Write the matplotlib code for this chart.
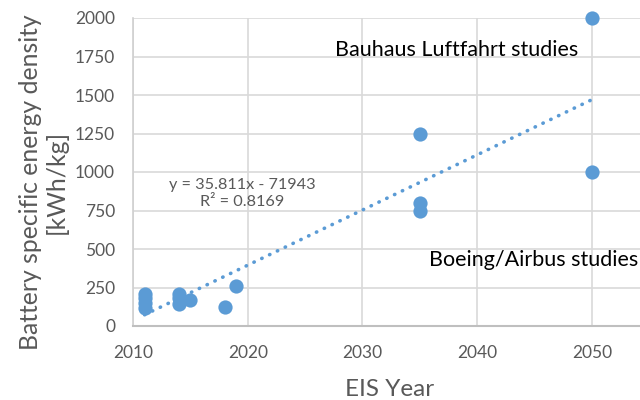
import matplotlib
matplotlib.use('Agg')
import matplotlib.pyplot as plt
import numpy as np

# --- data ---
eis_year = [2011, 2011, 2011, 2011, 2014, 2014, 2014, 2015, 2018, 2019,
            2035, 2035, 2035, 2050, 2050]
energy_density = [120, 150, 180, 205, 145, 180, 205, 172, 126, 261,
                  1250, 800, 750, 2000, 1000]
trend_slope = 35.811
trend_intercept = -71943
trend_r2 = 0.8169

x_ticks = [2010, 2020, 2030, 2040, 2050]
y_ticks = [0, 250, 500, 750, 1000, 1250, 1500, 1750, 2000]

plt.rcParams['font.family'] = ['Lato', 'DejaVu Sans']
GRAY = '#595959'
BLUE = '#5B9BD5'

fig = plt.figure(figsize=(6.4, 4.0), dpi=100)
ax = fig.add_axes([0.208, 0.185, 0.792, 0.77])

# trendline over the data range
tx = np.array([min(eis_year), max(eis_year)])
ax.plot(tx, trend_slope * tx + trend_intercept, color=BLUE,
        linestyle=(0, (0.1, 2.3)), linewidth=2.6, dash_capstyle='round',
        solid_capstyle='round', zorder=2)

ax.scatter(eis_year, energy_density, s=105, color=BLUE, zorder=3,
           clip_on=False, linewidths=0)

ax.set_xlim(2010, 2054.2)
ax.set_ylim(0, 2000)
ax.set_xticks(x_ticks)
ax.set_yticks(y_ticks)
ax.tick_params(length=0, labelsize=12.5, colors=GRAY)
ax.tick_params(axis='y', pad=13)
ax.tick_params(axis='x', pad=14)
ax.grid(True, color='#D9D9D9', linewidth=1.2)
ax.set_axisbelow(True)

for side in ['top', 'right']:
    ax.spines[side].set_visible(False)
ax.spines['left'].set_color('#D0D0D0')
ax.spines['left'].set_linewidth(1.2)
ax.spines['bottom'].set_color('#BFBFBF')
ax.spines['bottom'].set_linewidth(1.5)

fig.text(390 / 640, 1 - 389 / 400, 'EIS Year', fontsize=17.5, color=GRAY,
         ha='center', va='center')
fig.text(43 / 640, 1 - 182 / 400, 'Battery specific energy density\n[kWh/kg]',
         fontsize=17.8, color=GRAY, rotation=90, ha='center', va='center',
         multialignment='center', linespacing=1.15)

ax.text(2038.2, 1792, 'Bauhaus Luftfahrt studies', fontsize=15.5,
        color='black', ha='center', va='center')
ax.text(2044.9, 428, 'Boeing/Airbus studies', fontsize=15.5,
        color='black', ha='center', va='center')
ax.text(2019.5, 860,
        'y = %.3fx - %d\nR² = %.4f' % (trend_slope, -trend_intercept, trend_r2),
        fontsize=11.7, color=GRAY, ha='center', va='center',
        multialignment='center', linespacing=1.2)

fig.savefig('out.png', dpi=100)
